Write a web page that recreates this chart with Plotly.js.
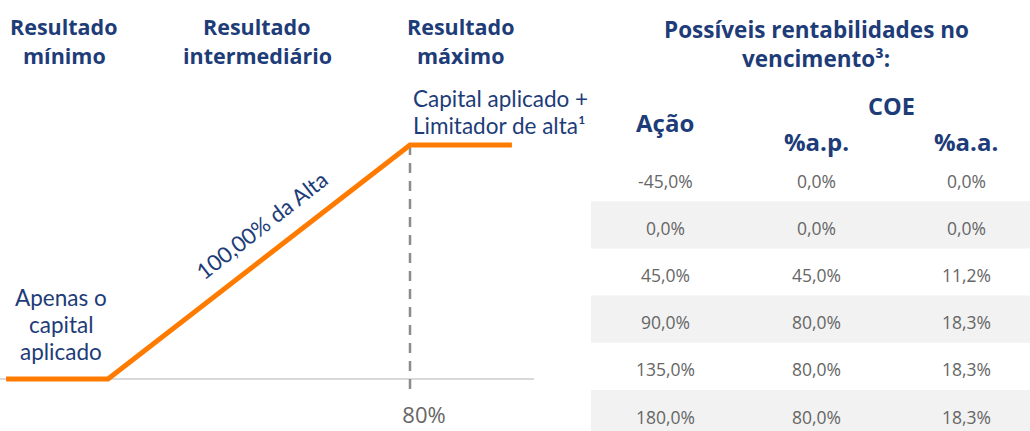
<!DOCTYPE html>
<html>
<head>
<meta charset="utf-8">
<script src="https://cdn.plot.ly/plotly-3.0.1.min.js"></script>
<style>html,body{margin:0;padding:0;background:#fff;}#chart{width:1030px;height:431px;}</style>
</head>
<body>
<div id="chart"></div>
<script>
// ---- Data ----
const stockReturn = [-27, 0, 80, 107];      // stock return (%) at the payoff kinks
const coePayoff   = [0, 0, 80, 80];         // COE return (%) at those points
const capLevel    = 80;                     // upper limiter
const capTickText = ['80%'];

const tableTitle  = ['Possíveis rentabilidades no', 'vencimento³:'];
const colAcao     = 'Ação';
const colCOE      = 'COE';
const colAP       = '%a.p.';
const colAA       = '%a.a.';
const acaoValues  = ['-45,0%', '0,0%', '45,0%', '90,0%', '135,0%', '180,0%'];
const coeAPValues = ['0,0%', '0,0%', '45,0%', '80,0%', '80,0%', '80,0%'];
const coeAAValues = ['0,0%', '0,0%', '11,2%', '18,3%', '18,3%', '18,3%'];

const headerLabels = [['Resultado', 'mínimo'], ['Resultado', 'intermediário'], ['Resultado', 'máximo']];
const labelMin  = ['Apenas o', 'capital', 'aplicado'];
const labelMid  = '100,00% da Alta';
const labelMax  = ['Capital aplicado +', 'Limitador de alta¹'];

// ---- Layout helpers (pixel -> paper) ----
const W = 1030, H = 431;
const PX = p => p / W;
const PY = p => 1 - p / H;

const NAVY = '#1d3c78';
const ORANGE = '#ff7b00';
const GREY_TXT = '#666666';
const REG_FONT = 'Lato, "Open Sans", sans-serif';
const BOLD_FONT = '"Open Sans", "Noto Sans", sans-serif';
const VAL_FONT = '"Open Sans", "Noto Sans", sans-serif';

const traces = [
  {
    type: 'scatter', mode: 'lines',
    x: [capLevel, capLevel], y: [coePayoff[2], -4.6],
    line: {color: '#8c8c8c', width: 2.5, dash: '10px,8px'},
    hoverinfo: 'skip', showlegend: false, cliponaxis: false
  },
  {
    type: 'scatter', mode: 'lines',
    x: stockReturn, y: coePayoff,
    line: {color: ORANGE, width: 5},
    hoverinfo: 'skip', showlegend: false, cliponaxis: false
  }
];

const annotations = [];
const shapes = [];

function addLines(lines, x, yFirst, pitch, opts) {
  lines.forEach((t, k) => annotations.push(Object.assign({
    text: opts.bold ? '<b>' + t + '</b>' : t,
    xref: 'paper', yref: 'paper', x: PX(x), y: PY(yFirst + k * pitch),
    xanchor: opts.xanchor || 'center', yanchor: 'middle', showarrow: false,
    font: {family: opts.bold ? BOLD_FONT : REG_FONT, size: opts.size, color: NAVY}
  })));
}

// column headers of the payoff chart
const headerX = [64, 257, 461];
headerLabels.forEach((lines, i) => addLines(lines, headerX[i], 26, 29, {bold: true, size: 21.5}));

addLines(labelMin, 61, 297, 27, {size: 22.5});
addLines(labelMax, 411, 98, 27, {size: 22.5, xanchor: 'left'});
annotations.push({
  text: labelMid, xref: 'paper', yref: 'paper', x: PX(261), y: PY(225),
  xanchor: 'center', yanchor: 'middle', showarrow: false, textangle: -38,
  font: {family: REG_FONT, size: 22, color: NAVY}
});

// table
addLines(tableTitle, 816, 29, 30, {bold: true, size: 22.5});
const colX = [665, 816, 966];
addLines([colAcao], colX[0], 123, 0, {bold: true, size: 24});
addLines([colCOE], 891, 106, 0, {bold: true, size: 23.5});
addLines([colAP], colX[1], 141, 0, {bold: true, size: 24});
addLines([colAA], colX[2], 141, 0, {bold: true, size: 24});

const rowTop = 154, rowH = 47.2;
acaoValues.forEach((v, i) => {
  const top = rowTop + i * rowH;
  if (i % 2 === 1) {
    shapes.push({type: 'rect', xref: 'paper', yref: 'paper',
      x0: PX(591), x1: 1, y0: PY(top), y1: PY(top + rowH),
      fillcolor: '#f2f2f2', line: {width: 0}, layer: 'below'});
  }
  const cy = top + 26.5;
  [v, coeAPValues[i], coeAAValues[i]].forEach((t, j) => annotations.push({
    text: t, xref: 'paper', yref: 'paper', x: PX(colX[j]), y: PY(cy),
    xanchor: 'center', yanchor: 'middle', showarrow: false,
    font: {family: VAL_FONT, size: 17.5, color: GREY_TXT}
  }));
});

// pixel mapping for the payoff axes
const xPerUnit = 3.775, x0px = 108, xEnd = 534;
const yPerUnit = 2.925, y0px = 379;

const layout = {
  width: W, height: H,
  margin: {l: 0, r: 0, t: 0, b: 0, pad: 0},
  paper_bgcolor: '#ffffff', plot_bgcolor: 'rgba(0,0,0,0)',
  showlegend: false,
  xaxis: {
    domain: [0, xEnd / W],
    range: [-x0px / xPerUnit, (xEnd - x0px) / xPerUnit],
    showgrid: false, zeroline: false, showline: false,
    tickmode: 'array', tickvals: [capLevel], ticktext: capTickText, ticks: '',
    ticklabelshift: 14,
    tickfont: {family: VAL_FONT, size: 22, color: GREY_TXT},
    anchor: 'free', position: (H - 400) / H
  },
  yaxis: {
    domain: [0, 1],
    range: [-(H - y0px) / yPerUnit, y0px / yPerUnit],
    showgrid: false, showticklabels: false, ticks: '',
    zeroline: true, zerolinecolor: '#d9d9d9', zerolinewidth: 2,
    showline: false
  },
  shapes: shapes,
  annotations: annotations
};

Plotly.newPlot('chart', traces, layout, {displayModeBar: false, staticPlot: true});
</script>
</body>
</html>
